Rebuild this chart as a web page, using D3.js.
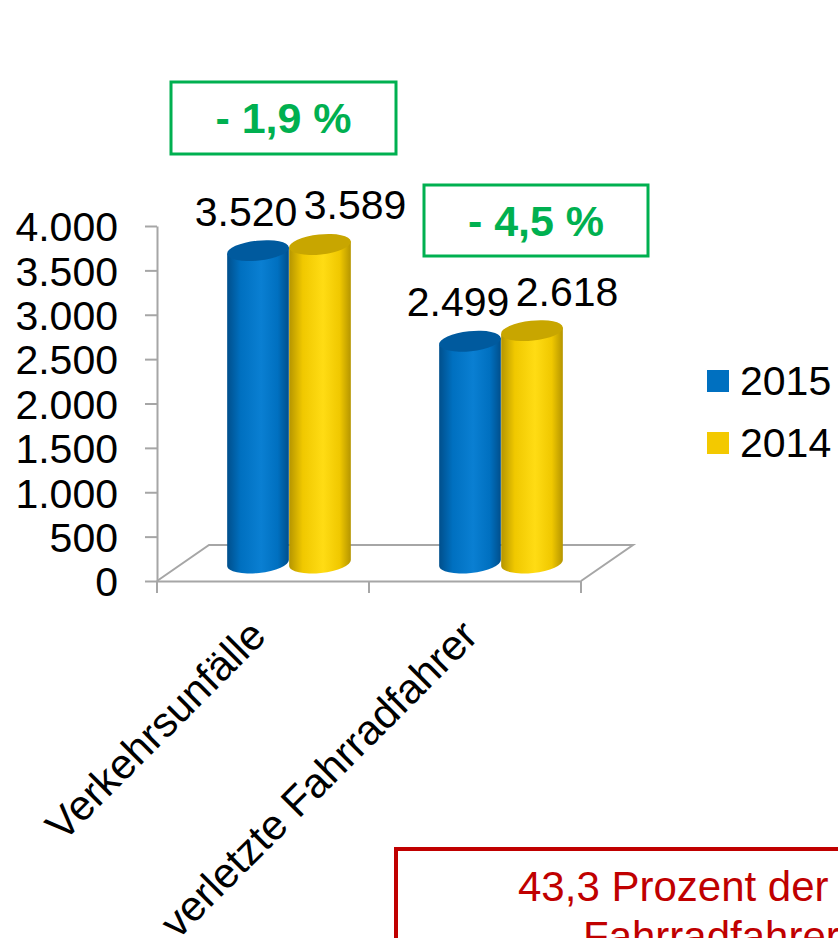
<!DOCTYPE html>
<html>
<head>
<meta charset="utf-8">
<script src="https://cdn.jsdelivr.net/npm/d3@7"></script>
<style>
  body { margin: 0; background: #fff; }
  svg { font-family: "Liberation Sans", Arial, sans-serif; display: block; }
</style>
</head>
<body>
<div id="main"></div>
<script>
// data
const categories = ["Verkehrsunfälle", "verletzte Fahrradfahrer"];
const series = ["2015", "2014"];
const values2015 = [3520, 2499];
const values2014 = [3589, 2618];
const yTicks = [0, 500, 1000, 1500, 2000, 2500, 3000, 3500, 4000];
const changeLabels = ["- 1,9 %", "- 4,5 %"];
const noteLines = ["43,3 Prozent der", "Fahrradfahrer"];

const colors = {
  "2015": { dark: "#004f8c", mid: "#0070c0", light: "#0a7fd2", top: "#005a9e", legend: "#0070c0" },
  "2014": { dark: "#b59500", mid: "#f0c800", light: "#ffdc14", top: "#c8a600", legend: "#f3c900" }
};

const de = d3.formatLocale({ decimal: ",", thousands: ".", grouping: [3], currency: ["", "€"] });
const fmt = de.format(",d");

const W = 838, H = 938;
const svg = d3.select("#main").append("svg").attr("width", W).attr("height", H);

// front plane of the 3d chart
const x0 = d3.scaleBand().domain(categories).range([157, 581]);
const x1 = d3.scaleBand().domain(series).range([-62, 62]);
const y = d3.scaleLinear().domain([0, 4000]).range([581, 226]);
// depth of floor
const depth = { dx: 52, dy: 36 };
const mid = { dx: depth.dx / 2, dy: depth.dy / 2 };

// gradients
const defs = svg.append("defs");
series.forEach(s => {
  const g = defs.append("linearGradient").attr("id", "grad" + s)
    .attr("x1", "0%").attr("x2", "100%").attr("y1", "0%").attr("y2", "0%");
  g.append("stop").attr("offset", "0%").attr("stop-color", colors[s].dark);
  g.append("stop").attr("offset", "22%").attr("stop-color", colors[s].mid);
  g.append("stop").attr("offset", "55%").attr("stop-color", colors[s].light);
  g.append("stop").attr("offset", "82%").attr("stop-color", colors[s].mid);
  g.append("stop").attr("offset", "100%").attr("stop-color", colors[s].dark);
});

// floor
const x0min = x0.range()[0], x0max = x0.range()[1], y0 = y(0);
svg.append("path")
  .attr("d", `M${x0min},${y0} L${x0min + depth.dx},${y0 - depth.dy} L${x0max + depth.dx},${y0 - depth.dy} L${x0max},${y0}`)
  .attr("fill", "none").attr("stroke", "#a6a6a6").attr("stroke-width", 2);

// y axis
const yAxis = svg.append("g").attr("transform", `translate(${x0min},0)`)
  .call(d3.axisLeft(y).tickValues(yTicks).tickFormat(d => fmt(d)).tickSize(12).tickSizeOuter(0).tickPadding(27));
yAxis.select(".domain").attr("stroke", "#a6a6a6").attr("stroke-width", 2);
yAxis.selectAll(".tick line").attr("stroke", "#a6a6a6").attr("stroke-width", 2);
yAxis.selectAll(".tick text").attr("font-size", 41).attr("fill", "#000").attr("font-family", "Liberation Sans, Arial").attr("dy", "0.36em");

// x axis
const xAxis = svg.append("g").attr("transform", `translate(0,${y0})`)
  .call(d3.axisBottom(x0).tickSize(0).tickSizeOuter(0).tickFormat(""));
xAxis.select(".domain").attr("stroke", "#a6a6a6").attr("stroke-width", 2);
xAxis.selectAll(".tick").remove();
const tickXs = [x0min].concat(categories.map(c => x0(c) + x0.bandwidth()));
xAxis.selectAll("line.xt").data(tickXs).enter().append("line").attr("class", "xt")
  .attr("x1", d => d).attr("x2", d => d).attr("y1", 0).attr("y2", 12)
  .attr("stroke", "#a6a6a6").attr("stroke-width", 2);

// category labels
svg.append("g").selectAll("text").data(categories).enter().append("text")
  .attr("transform", d => `translate(${x0(d) + x0.bandwidth() / 2 + 5},${y0 + 57}) rotate(-45)`)
  .attr("text-anchor", "end").attr("font-size", 42).attr("fill", "#000")
  .text(d => d);

// bars as cylinders
const bars = [];
categories.forEach((c, i) => {
  bars.push({ cat: c, s: "2015", v: values2015[i] });
  bars.push({ cat: c, s: "2014", v: values2014[i] });
});
const rx = x1.bandwidth() / 2, ry = 10, tilt = -6 * Math.PI / 180;
function ellPts(cx, cy) {
  return {
    l: [cx - rx * Math.cos(tilt), cy - rx * Math.sin(tilt)],
    r: [cx + rx * Math.cos(tilt), cy + rx * Math.sin(tilt)]
  };
}
const barG = svg.append("g");
bars.forEach(b => {
  const cx = x0(b.cat) + x0.bandwidth() / 2 + mid.dx + x1(b.s) + rx;
  const yb = y(0) - mid.dy, yt = y(b.v) - mid.dy;
  const t = ellPts(cx, yt), bt = ellPts(cx, yb);
  const rot = tilt * 180 / Math.PI;
  barG.append("path")
    .attr("d", `M${t.l[0]},${t.l[1]} L${bt.l[0]},${bt.l[1]} A${rx},${ry} ${rot} 0 0 ${bt.r[0]},${bt.r[1]} L${t.r[0]},${t.r[1]} Z`)
    .attr("fill", `url(#grad${b.s})`);
  barG.append("ellipse").attr("cx", cx).attr("cy", yt).attr("rx", rx).attr("ry", ry)
    .attr("transform", `rotate(${rot},${cx},${yt})`)
    .attr("fill", colors[b.s].top);
  b.cx = cx; b.yt = yt;
});

// value labels
svg.append("g").selectAll("text").data(bars).enter().append("text")
  .attr("x", d => d.cx + (d.s === "2015" ? -12 : 35))
  .attr("y", d => d.yt - 25)
  .attr("text-anchor", "middle").attr("font-size", 41).attr("fill", "#000")
  .text(d => fmt(d.v));

// change boxes
const boxes = [
  { x: 171, y: 82, w: 225, h: 72 },
  { x: 424, y: 185, w: 224, h: 71 }
];
const cg = svg.append("g").selectAll("g").data(changeLabels).enter().append("g");
cg.append("rect")
  .attr("x", (d, i) => boxes[i].x).attr("y", (d, i) => boxes[i].y)
  .attr("width", (d, i) => boxes[i].w).attr("height", (d, i) => boxes[i].h)
  .attr("fill", "#fff").attr("stroke", "#00b050").attr("stroke-width", 3);
cg.append("text")
  .attr("x", (d, i) => boxes[i].x + boxes[i].w / 2).attr("y", (d, i) => boxes[i].y + 51)
  .attr("text-anchor", "middle").attr("font-size", 43).attr("font-weight", "bold").attr("fill", "#00b050")
  .text(d => d);

// legend
const lg = svg.append("g").selectAll("g").data(series).enter().append("g")
  .attr("transform", (d, i) => `translate(707,${370 + i * 62})`);
lg.append("rect").attr("width", 22).attr("height", 22).attr("fill", d => colors[d].legend);
lg.append("text").attr("x", 33).attr("y", 25).attr("font-size", 41).attr("fill", "#000").text(d => d);

// note box (cut off at the page edge, as in the original slide)
svg.append("rect").attr("x", 396).attr("y", 849).attr("width", 520).attr("height", 200)
  .attr("fill", "none").attr("stroke", "#c00000").attr("stroke-width", 4);
svg.append("g").selectAll("text").data(noteLines).enter().append("text")
  .attr("x", (d, i) => i === 0 ? 518 : 583).attr("y", (d, i) => 901 + i * 50)
  .attr("font-size", 42).attr("fill", "#c00000").text(d => d);
</script>
</body>
</html>
